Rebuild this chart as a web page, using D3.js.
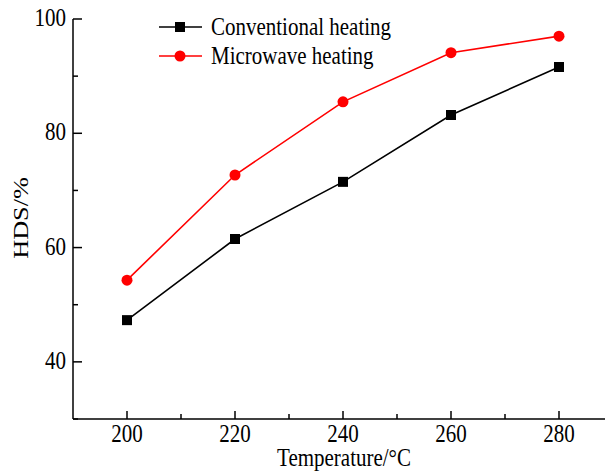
<!DOCTYPE html>
<html><head><meta charset="utf-8">
<script src="https://cdn.jsdelivr.net/npm/d3@7"></script>
<style>body{margin:0;background:#fff;} svg{display:block;} text{font-family:"Liberation Serif","Times New Roman",serif;fill:#000;}</style>
</head><body>
<script>
const temperatures = [200, 220, 240, 260, 280];
const conventional = [47.3, 61.5, 71.5, 83.2, 91.6];
const microwave = [54.3, 72.7, 85.5, 94.1, 97.0];
const xTicks = [200, 220, 240, 260, 280];
const yTicks = [40, 60, 80, 100];
const seriesNames = ["Conventional heating", "Microwave heating"];

const W = 605, H = 471;
const FS = 21, SY = 1.15;
const svg = d3.select("body").append("svg").attr("width", W).attr("height", H);
const x = d3.scaleLinear().domain([190, 290]).range([73, 613]);
const y = d3.scaleLinear().domain([30, 100]).range([419, 19]);

function txt(parent, tx, ty, s, anchor, rot, sy) {
  return parent.append("text")
    .attr("transform", `translate(${tx},${ty}) scale(1,${sy || SY})` + (rot ? ` rotate(${rot})` : ""))
    .attr("text-anchor", anchor).attr("font-size", FS).text(s);
}

// x axis
const xAxis = svg.append("g").attr("transform", `translate(0,${y(30)})`);
xAxis.append("line").attr("x1", 73).attr("x2", W).attr("stroke", "#000").attr("stroke-width", 1.5);
xAxis.selectAll(".maj").data(xTicks).enter().append("line")
  .attr("x1", d => x(d)).attr("x2", d => x(d)).attr("y1", 0).attr("y2", -8).attr("stroke", "#000").attr("stroke-width", 1.5);
xAxis.selectAll(".min").data(xTicks.map(d => d + 10)).enter().append("line")
  .attr("x1", d => x(d)).attr("x2", d => x(d)).attr("y1", 0).attr("y2", -5).attr("stroke", "#000").attr("stroke-width", 1.5);
xTicks.forEach(d => txt(xAxis, x(d), 23, d, "middle"));

// y axis
const yAxis = svg.append("g").attr("transform", `translate(73,0)`);
yAxis.append("line").attr("y1", y(30)).attr("y2", y(100)).attr("stroke", "#000").attr("stroke-width", 1.5);
yAxis.selectAll(".maj").data(yTicks).enter().append("line")
  .attr("y1", d => y(d)).attr("y2", d => y(d)).attr("x1", 0).attr("x2", 9).attr("stroke", "#000").attr("stroke-width", 1.5);
yAxis.selectAll(".min").data([30, 50, 70, 90]).enter().append("line")
  .attr("y1", d => y(d)).attr("y2", d => y(d)).attr("x1", 0).attr("x2", 5).attr("stroke", "#000").attr("stroke-width", 1.5);
yTicks.forEach(d => txt(yAxis, -7, y(d) + 7, d, "end"));

txt(svg, 344, 466, "Temperature/°C", "middle");
txt(svg, 28, 218, "HDS/%", "middle", -90, 1.25);

const line = d3.line().x((d, i) => x(temperatures[i])).y(d => y(d));
function drawSeries(vals, color, shape) {
  svg.append("path").datum(vals).attr("d", line).attr("fill", "none").attr("stroke", color).attr("stroke-width", 1.6);
  const g = svg.append("g");
  vals.forEach((v, i) => {
    if (shape === "square") g.append("rect").attr("x", x(temperatures[i]) - 5).attr("y", y(v) - 5).attr("width", 10).attr("height", 10).attr("fill", color);
    else g.append("circle").attr("cx", x(temperatures[i])).attr("cy", y(v)).attr("r", 5.5).attr("fill", color);
  });
}
drawSeries(conventional, "#000", "square");
drawSeries(microwave, "#ff0000", "circle");

// legend
const leg = [{name: seriesNames[0], color: "#000", shape: "square", yy: 27}, {name: seriesNames[1], color: "#ff0000", shape: "circle", yy: 56}];
leg.forEach(l => {
  svg.append("line").attr("x1", 159).attr("x2", 202).attr("y1", l.yy).attr("y2", l.yy).attr("stroke", l.color).attr("stroke-width", 1.6);
  if (l.shape === "square") svg.append("rect").attr("x", 175).attr("y", l.yy - 5).attr("width", 10).attr("height", 10).attr("fill", l.color);
  else svg.append("circle").attr("cx", 180).attr("cy", l.yy).attr("r", 5.5).attr("fill", l.color);
  txt(svg, 211, l.yy + 7.5, l.name, "start");
});
</script>
</body></html>
